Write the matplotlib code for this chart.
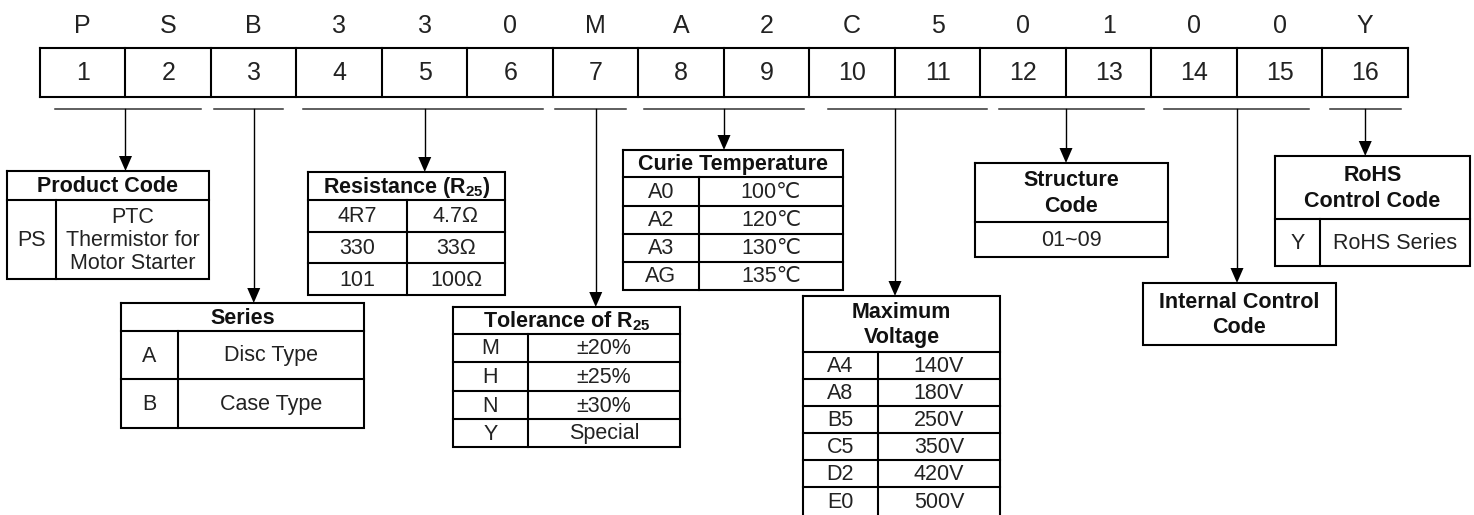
import matplotlib
matplotlib.use("Agg")
import matplotlib.pyplot as plt
from matplotlib.patches import Polygon

plt.rcParams["font.family"] = ["Liberation Sans", "DejaVu Sans"]
plt.rcParams["mathtext.fontset"] = "custom"
plt.rcParams["mathtext.rm"] = "Liberation Sans"
plt.rcParams["mathtext.bf"] = "Liberation Sans:bold"

# --- part-number data ---
CODE = list("PSB330MA2C50100Y")
DIGITS = [str(i) for i in range(1, 17)]
GROUPS = [(1, 2), (3, 3), (4, 6), (7, 7), (8, 9), (10, 11), (12, 13), (14, 15), (16, 16)]

PRODUCT_TITLE = "Product Code"
PRODUCT_ROWS = [("PS", "PTC\nThermistor for\nMotor Starter")]
SERIES_TITLE = "Series"
SERIES_ROWS = [("A", "Disc Type"), ("B", "Case Type")]
RESIST_TITLE = r"Resistance (R$_{\mathbf{25}}$)"
RESIST_ROWS = [("4R7", "4.7Ω"), ("330", "33Ω"), ("101", "100Ω")]
TOL_TITLE = r"Tolerance of R$_{\mathbf{25}}$"
TOL_ROWS = [("M", "±20%"), ("H", "±25%"), ("N", "±30%"), ("Y", "Special")]
CURIE_TITLE = "Curie Temperature"
CURIE_ROWS = [("A0", "100℃"), ("A2", "120℃"), ("A3", "130℃"), ("AG", "135℃")]
VOLT_TITLE = "Maximum\nVoltage"
VOLT_ROWS = [("A4", "140V"), ("A8", "180V"), ("B5", "250V"),
             ("C5", "350V"), ("D2", "420V"), ("E0", "500V")]
STRUCT_TITLE = "Structure\nCode"
STRUCT_ROWS = [("01~09",)]
INTERNAL_TITLE = "Internal Control\nCode"
INTERNAL_ROWS = []
ROHS_TITLE = "RoHS\nControl Code"
ROHS_ROWS = [("Y", "RoHS Series")]

# --- layout (pixel coords, y downwards) ---
W, H = 1474, 515
X0, CW = 40, 85.5           # code strip left edge, cell width
Y_CODE, Y_TOP, Y_BOT, Y_UL = 26, 48, 97, 109
UNDERLINES = [(55, 201), (214, 283), (303, 543), (555, 626), (644, 804),
              (828, 987), (999, 1144), (1164, 1309), (1330, 1401)]
# x0, x1, top, header bottom, row height(s), divider x
TABLES = [
    (PRODUCT_TITLE, PRODUCT_ROWS, 7, 209, 171, 200, [79], 56),
    (SERIES_TITLE, SERIES_ROWS, 121, 364, 303, 331, [48, 49], 178),
    (RESIST_TITLE, RESIST_ROWS, 308, 505, 172, 200, [32, 31, 32], 407),
    (TOL_TITLE, TOL_ROWS, 453, 680, 307, 334, [28, 29, 28, 28], 528),
    (CURIE_TITLE, CURIE_ROWS, 623, 843, 150, 177, [29, 28, 28, 28], 699),
    (VOLT_TITLE, VOLT_ROWS, 803, 1000, 296, 352, [27, 27, 27, 27, 27, 30], 878),
    (STRUCT_TITLE, STRUCT_ROWS, 975, 1168, 163, 222, [35], None),
    (INTERNAL_TITLE, INTERNAL_ROWS, 1143, 1336, 283, 345, [], None),
    (ROHS_TITLE, ROHS_ROWS, 1275, 1470, 156, 219, [47], 1320),
]
FS_CODE, FS_TAB = 18, 15.5
LW_BOX = 1.5

fig = plt.figure(figsize=(W / 100, H / 100), dpi=100)
ax = fig.add_axes([0, 0, 1, 1])
ax.set_xlim(0, W); ax.set_ylim(H, 0); ax.axis("off")

# code letters + numbered strip
for i, (ch, dg) in enumerate(zip(CODE, DIGITS)):
    xc = X0 + (i + 0.5) * CW
    ax.text(xc, Y_CODE, ch, ha="center", va="center", fontsize=FS_CODE, color="#222")
    ax.text(xc, (Y_TOP + Y_BOT) / 2 + 1, dg, ha="center", va="center", fontsize=FS_CODE, color="#222")
for i in range(17):
    ax.plot([X0 + i * CW] * 2, [Y_TOP, Y_BOT], color="black", lw=LW_BOX)
ax.plot([X0, X0 + 16 * CW], [Y_TOP, Y_TOP], color="black", lw=LW_BOX)
ax.plot([X0, X0 + 16 * CW], [Y_BOT, Y_BOT], color="black", lw=LW_BOX)

def arrow(x, y0, y1):
    ax.plot([x, x], [y0, y1 - 14], color="black", lw=1.0)
    ax.add_patch(Polygon([[x - 6.5, y1 - 15], [x + 6.5, y1 - 15], [x, y1]],
                         closed=True, color="black", lw=0))

def table(title, rows, x0, x1, top, hb, rh, div):
    xm = (x0 + x1) / 2
    ys = [hb]
    for h in rh:
        ys.append(ys[-1] + h)
    bot = ys[-1]
    ax.plot([x0, x1, x1, x0, x0], [top, top, bot, bot, top], color="black", lw=LW_BOX,
            solid_joinstyle="miter")
    ax.text(xm, (top + hb) / 2 + 1, title, ha="center", va="center", fontsize=FS_TAB,
            fontweight="bold", color="#111", linespacing=1.3)
    for k, row in enumerate(rows):
        ya, yb = ys[k], ys[k + 1]
        ax.plot([x0, x1], [ya, ya], color="black", lw=LW_BOX)
        yc = (ya + yb) / 2 + 1
        if len(row) == 1:
            ax.text(xm, yc, row[0], ha="center", va="center", fontsize=FS_TAB, color="#222")
        else:
            ax.plot([div, div], [ya, yb], color="black", lw=LW_BOX)
            ax.text((x0 + div) / 2, yc, row[0], ha="center", va="center", fontsize=FS_TAB, color="#222")
            ax.text((div + x1) / 2, yc, row[1], ha="center", va="center", fontsize=FS_TAB,
                    color="#222", linespacing=1.15)

for (g0, g1), (u0, u1), tb in zip(GROUPS, UNDERLINES, TABLES):
    ax.plot([u0, u1], [Y_UL, Y_UL], color="#333", lw=1.1)
    xc = X0 + ((g0 - 1) + g1) / 2 * CW
    arrow(xc, Y_UL, tb[4])
    table(*tb)

fig.savefig("out.png", dpi=100)
